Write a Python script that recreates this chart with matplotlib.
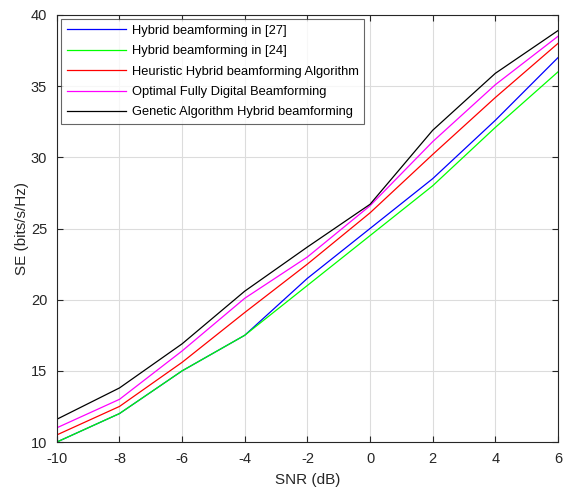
import matplotlib
matplotlib.use("Agg")
import matplotlib.pyplot as plt
import numpy as np

plt.rcParams['font.family'] = ['Liberation Sans', 'DejaVu Sans']
plt.rcParams['axes.unicode_minus'] = False

snr = [-10, -8, -6, -4, -2, 0, 2, 4, 6]

se_hyb27 = [10.0, 12.0, 15.0, 17.5, 21.5, 25.0, 28.5, 32.6, 37.0]
se_hyb24 = [10.0, 12.0, 15.0, 17.5, 21.0, 24.5, 28.0, 32.1, 36.0]
se_heur = [10.5, 12.5, 15.6, 19.1, 22.5, 26.1, 30.2, 34.2, 38.0]
se_opt = [11.0, 13.0, 16.4, 20.1, 23.0, 26.6, 31.1, 35.1, 38.5]
se_ga = [11.6, 13.8, 16.9, 20.6, 23.7, 26.7, 31.9, 35.9, 38.9]

series = [
    (se_hyb27, 'Hybrid beamforming in [27]', '#0000ff'),
    (se_hyb24, 'Hybrid beamforming in [24]', '#00ff00'),
    (se_heur, 'Heuristic Hybrid beamforming Algorithm', '#ff0000'),
    (se_opt, 'Optimal Fully Digital Beamforming', '#ff00ff'),
    (se_ga, 'Genetic Algorithm Hybrid beamforming', '#000000'),
]

fig = plt.figure(figsize=(5.63, 4.93), dpi=100)
ax = fig.add_axes([0.101, 0.1034, 0.890, 0.8662])

for y, lab, c in series:
    ax.plot(snr, y, color=c, lw=0.9, label=lab)

ax.set_xlim(-10, 6)
ax.set_ylim(10, 40)
ax.set_xticks(np.arange(-10, 7, 2))
ax.set_yticks(np.arange(10, 41, 5))
ax.grid(True, color='#dcdcdc', lw=0.8)
ax.set_axisbelow(True)
ax.tick_params(direction='in', length=4, labelsize=10.5, colors='#262626',
               top=True, right=True, pad=7)
for s in ax.spines.values():
    s.set_color('#262626')
    s.set_linewidth(0.8)
ax.set_xlabel('SNR (dB)', fontsize=11, color='#262626', labelpad=5)
ax.set_ylabel('SE (bits/s/Hz)', fontsize=11, color='#262626', labelpad=1)

leg = ax.legend(loc='upper left', fontsize=9.3, frameon=True, fancybox=False,
                edgecolor='#404040', handlelength=4.6, borderaxespad=0.3,
                labelspacing=0.65, handletextpad=0.45, borderpad=0.45)
leg.get_frame().set_linewidth(0.8)

fig.savefig('out.png', dpi=100)
